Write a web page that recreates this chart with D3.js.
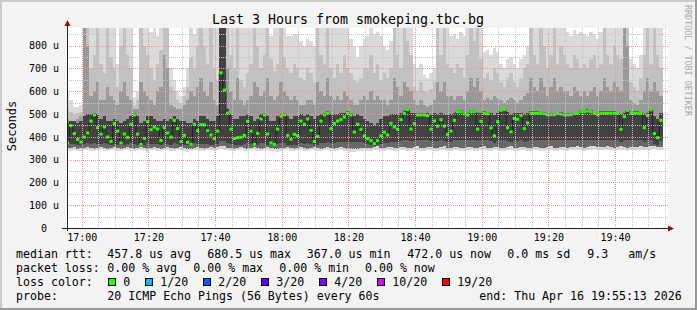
<!DOCTYPE html>
<html>
<head>
<meta charset="utf-8">
<script src="https://cdn.jsdelivr.net/npm/d3@7"></script>
<style>
  html, body { margin: 0; padding: 0; background: #f3f3f3; }
  svg { display: block; }
  text { font-family: "DejaVu Sans Mono", monospace; fill: #000; }
</style>
</head>
<body>
<div id="chart"></div>
<script>
// median rtt per 60s step, microseconds
const medians = [
  374,449,414,389,377,399,417,469,496,440, 412,443,399,380,458,425,373,412,398,455,
  496,412,367,393,466,431,442,434,384,440, 417,399,472,436,379,406,376,367,455,427,
  453,452,427,408,393,
  425,680.5,605,504,434,392,396,398,406,468, 425,367,415,478,496,412,373,367,434,490,
  496,406,390,411,405,469,455,478,428,380, 402,469,496,504,436,459,469,475,487,504,
  496,421,455,433,405,
  392,383,370,383,404,420,408,459,443,433, 475,503,519,434,458,496,496,496,493,434,
  469,447,475,447,411,425,472,510,510,501, 496,510,510,434,468,504,501,439,405,466,
  516,520,440,422,480,
  477,493,436,461,504,504,504,503,501,497, 497,497,503,500,496,496,497,503,503,510,
  510,513,510,503,497,504,504,504,504,504, 503,433,488,516,503,504,504,503,440,493,
  518,414,396,472
]
// smoke: lowest and highest ping of each step (lightest band)
const smokeMin = [
  340,338,342,336,338,340,344,338,336,340, 342,338,336,340,344,338,336,340,342,338,
  336,340,344,338,334,340,342,338,336,340, 344,338,336,340,342,338,334,336,340,342,
  338,336,340,344,338,340,346,344,340,338, 336,340,342,338,336,340,344,338,336,340,
  342,338,336,334,338,340,342,338,336,340, 344,338,336,340,342,338,336,340,342,338,
  336,340,344,338,336,332,334,336,338,340, 338,336,340,344,338,336,340,342,338,336,
  340,342,338,336,340,344,338,336,340,342, 338,336,340,344,338,336,340,342,338,336,
  340,342,338,336,340,344,338,336,340,342, 338,336,340,344,338,336,340,342,338,336,
  340,342,338,336,340,344,338,336,340,342, 338,340,342,344,340,338,342,344,346,342,
  340,342,344,340,338,342,344,340,338,342, 340,342,344,340,342,344,346,342,340
]
const smokeMax = [
  600,560,530,530,540, 880,880, 880,880,880,880,880,880,880,880, 720, 880,880,880,880,
  575,600, 880,880,880, 860,880,840,880, 880,880, 700,650,600,580,620,700, 880,850,880,
  880,880,880,880,880,880, 880,880,880,
  880,880,840,880,880,880,880,860,880,880,880,880,840,880,880,880,880,
  840,840, 850,850, 820,800,830,820,800, 880,880,880,880,880,880,880,880,880,880,
  830,800,750,800,830, 840,880,850,860,840, 800,780,820, 880,880,880,880,880,880,
  720,700,720, 670,660,680,700, 880,880,880,880, 840,850,830,860,840, 880,880,880,880,880,
  770,780,760,790,770, 720,700,740,750,720,700,740,760,800,
  880,880,880,880,880,880,880,880,880,880,880, 860,840,870,850,860, 850,840,860,850,830,860,
  880,880,880,880,880,880, 880,880, 740,720,700,760, 880,880,880,880,880,880
]
// second band top (light grey)
const softHi = [
  520,510,500,505,510, 880,880, 700,760,880,720,680,880,750,700, 620, 800,880,760,700,
  540,560, 880,800,760, 700,650,720,780, 880,880, 620,600,560,550,580,620, 750,700,800,
  880,800,720,880,700,650, 880,880,880,
  760,700,880,650,620,680,720,880,800,700,760,880,740,690,720,880,750,
  700,680, 720,700, 660,650,700,680,640, 880,760,720,880,700,660,720,680,760,700,
  680,650,640,660,700, 700,760,680,720,650, 680,660,700, 880,760,700,880,820,760,
  620,600,640, 600,590,610,640, 880,760,880,720, 700,680,720,700,660, 760,880,820,880,740,
  660,680,650,700,680, 640,620,660,680,640,620,660,700,720,
  880,760,720,880,800,700,760,880,720,800,760, 720,700,760,740,700, 720,700,740,760,700,720,
  880,760,720,800,760,740, 880,880, 640,620,600,660, 760,880,720,880,760,700
]
// mid grey band
const midLo = [
  352,350,354,348,350,352,356,350,348,352, 354,350,348,352,356,350,348,352,354,350,
  348,352,356,350,346,352,354,350,348,352, 356,350,348,352,354,350,346,348,352,354,
  350,348,352,356,350,354,360,358,352,350, 348,352,354,350,348,352,356,350,348,352,
  354,350,348,346,350,352,354,350,348,352, 356,350,348,352,354,350,348,352,354,350,
  348,352,356,350,348,346,346,348,350,352, 352,350,354,358,352,350,354,356,352,350,
  354,356,352,350,354,358,352,350,354,356, 352,350,354,358,352,350,354,356,352,350,
  354,356,352,350,354,358,352,350,354,356, 352,350,354,358,352,350,354,356,352,350,
  354,356,352,350,354,358,352,350,354,356, 352,354,356,358,354,352,356,358,360,356,
  354,356,358,354,352,356,358,354,352,356, 354,356,358,354,356,358,360,356,354
]
const midHi = [
  480,470,470,480,490, 880,800, 580,600,640,560,560,620,580,560, 540,600,640,580,560,
  520,520,640,600,580, 560,540,600,620,760,700, 540,530,520,520,540,560,
  600,580,620,660,600,580,640,560,540, 880,880,700,
  600,560,660,560,540,560,580,640,620,580,600,660,580,560,580,640,600,
  580,560,580,560,540,540,560,560,540, 640,600,580,660,580,560,580,560,600,580,
  560,540,540,560,580, 560,600,560,580,560,560,540,560, 660,620,580,640,620,600,
  560,540,560,540,530,540,560, 640,600,640,580,580,560,580,580,560, 600,660,620,660,600,
  560,570,560,580,570,560,550,560,570,560,550,560,580,590,
  660,620,600,660,620,580,620,660,600,620,600, 600,580,620,600,580,600,580,600,620,580,600,
  660,620,600,640,620,600, 880,800, 560,550,540,560,600,660,600,640,600,580
]
// dark core around the median
const coreLo = [
  368,368,370,366,365,370,372,370,372,370, 368,372,368,362,370,366,362,366,368,372,
  370,366,358,366,372,370,370,368,366,372, 368,366,372,368,366,364,362,358,372,368,
  370,370,368,366,364,
  370,380,380,372,368,366,366,366,368,372, 368,360,366,372,372,366,362,360,368,372,
  372,366,364,366,366,372,370,372,368,364, 366,372,374,376,372,374,376,376,378,378,
  378,376,378,376,374,
  368,364,360,364,368,372,372,378,378,376, 382,384,386,380,380,384,384,384,384,380,
  382,380,384,380,376,378,384,388,388,386, 384,388,388,380,384,386,386,380,374,382,
  388,388,382,378,384,
  382,384,378,380,386,386,386,386,384,384, 384,384,386,384,384,384,384,386,386,388,
  388,388,388,386,384,386,386,386,386,386, 386,376,384,388,386,386,386,386,378,384,
  388,370,366,380
]
const coreHi = [
  460,470,470,460,470,490,500,500,505,500, 480,490,470,470,480,470,460,470,480,490,
  505,490,460,470,490,490,480,470,470,480, 470,480,490,480,470,470,460,460,480,470,
  490,490,480,470,470,
  490,880,880,520,500,480,480,490,490,500, 490,470,480,500,505,490,470,470,490,500,
  505,490,480,490,490,500,490,500,490,480, 490,500,505,512,500,500,500,505,505,512,
  505,490,500,490,480,
  470,460,450,460,480,490,490,500,500,500, 505,512,526,505,505,505,505,505,505,500,
  505,500,505,500,495,500,505,518,518,510, 505,518,518,505,505,512,510,505,495,505,
  524,528,510,500,505,
  505,505,500,505,512,512,512,510,510,505, 505,505,510,508,505,505,505,510,510,516,
  516,520,516,510,505,512,512,512,512,512, 510,500,505,522,510,512,512,510,500,505,
  524,490,480,505
]

const yTicks = [0, 100, 200, 300, 400, 500, 600, 700, 800]
const rttStats = ["457.8 us avg", "680.5 us max", "367.0 us min", "472.0 us now", "0.0 ms sd", "9.3", "am/s"]
const lossStats = ["0.00 % avg", "0.00 % max", "0.00 % min", "0.00 % now"]
const lossLabels = ["0", "1/20", "2/20", "3/20", "4/20", "10/20", "19/20"]
const lossColors = ["#26ff00", "#00b8ff", "#0059ff", "#5e00ff", "#7e00ff", "#dd00ff", "#ff0000"]
const probeText = "20 ICMP Echo Pings (56 Bytes) every 60s"
const endText = "end: Thu Apr 16 19:55:13 2026"

const W = 697, H = 310
const plot = { left: 67, right: 667, top: 28, bottom: 228 }

const tStart = new Date(2026, 3, 16, 16, 55, 35)
const tEnd = new Date(2026, 3, 16, 19, 55, 35)
const t0 = new Date(2026, 3, 16, 16, 55, 17)

const x = d3.scaleTime().domain([tStart, tEnd]).range([plot.left, plot.right])
const y = d3.scaleLinear().domain([0, 877.2]).range([plot.bottom, plot.top])

const cols = medians.map((m, i) => ({ t: d3.timeSecond.offset(t0, i * 60), i }))
const steps = [...cols, { t: d3.timeSecond.offset(t0, medians.length * 60), i: medians.length - 1 }]

const svg = d3.select("#chart").append("svg")
  .attr("width", W)
  .attr("height", H)

/* BACKGROUND + FRAME */
svg.append("rect").attr("width", W).attr("height", H).attr("fill", "#f3f3f3")
svg.append("rect").attr("x", 0).attr("y", 0).attr("width", W).attr("height", 2).attr("fill", "#cbcbcb")
svg.append("rect").attr("x", 0).attr("y", 0).attr("width", 2).attr("height", H).attr("fill", "#cbcbcb")
svg.append("rect").attr("x", 0).attr("y", H - 2).attr("width", W).attr("height", 2).attr("fill", "#999")
svg.append("rect").attr("x", W - 2).attr("y", 0).attr("width", 2).attr("height", H).attr("fill", "#999")

svg.append("rect")
  .attr("x", plot.left).attr("y", plot.top)
  .attr("width", plot.right - plot.left + 1).attr("height", plot.bottom - plot.top)
  .attr("fill", "#fff")

svg.append("clipPath").attr("id", "plotclip")
  .append("rect")
  .attr("x", plot.left).attr("y", plot.top)
  .attr("width", plot.right - plot.left + 1).attr("height", plot.bottom - plot.top)

const g = svg.append("g").attr("clip-path", "url(#plotclip)")

/* SMOKE */
function band(lo, hi, fill) {
  const area = d3.area()
    .curve(d3.curveStepAfter)
    .x(d => x(d.t))
    .y0(d => y(lo[d.i]))
    .y1(d => y(hi[d.i]))
  g.append("path")
    .datum(steps)
    .attr("fill", fill)
    .attr("shape-rendering", "crispEdges")
    .attr("d", area)
}
band(smokeMin, smokeMax, "#dadada")
band(midLo, softHi, "#c1c1c1")
band(midLo, midHi, "#999999")
band(midLo, coreHi, "#686868")
band(coreLo, coreHi, "#424242")

/* GRID */
const grid = svg.append("g").attr("fill", "none").attr("stroke-width", 1).attr("stroke-dasharray", "1,1")
const minorY = d3.range(50, 877, 50).filter(v => v % 100 !== 0)
const majorY = d3.range(100, 877, 100)
const minorX = x.ticks(d3.timeMinute.every(5)).filter(t => t.getMinutes() % 20 !== 0)
const majorX = x.ticks(d3.timeMinute.every(20))
const gy = v => Math.round(y(v)) + 0.5
const gx = t => Math.round(x(t)) + 0.5

grid.selectAll(".minor-y").data(minorY).join("line")
  .attr("stroke", "#c4c4c4")
  .attr("x1", plot.left).attr("x2", plot.right + 1)
  .attr("y1", gy).attr("y2", gy)
grid.selectAll(".minor-x").data(minorX).join("line")
  .attr("stroke", "#c4c4c4")
  .attr("x1", gx).attr("x2", gx)
  .attr("y1", plot.top).attr("y2", plot.bottom)
grid.selectAll(".major-y").data(majorY).join("line")
  .attr("stroke", "#e39a9a")
  .attr("x1", plot.left).attr("x2", plot.right + 1)
  .attr("y1", gy).attr("y2", gy)
grid.selectAll(".major-x").data(majorX).join("line")
  .attr("stroke", "#e39a9a")
  .attr("x1", gx).attr("x2", gx)
  .attr("y1", plot.top).attr("y2", plot.bottom)

/* MEDIAN */
g.append("path")
  .datum(steps)
  .attr("fill", "none")
  .attr("stroke", "#202020")
  .attr("stroke-width", 1)
  .attr("d", d3.line().curve(d3.curveStepAfter).x(d => x(d.t)).y(d => y(medians[d.i])))

g.append("g")
  .selectAll("rect")
  .data(cols)
  .join("rect")
  .attr("x", d => x(d.t))
  .attr("width", d => x(d3.timeSecond.offset(d.t, 60)) - x(d.t))
  .attr("y", d => y(medians[d.i]) - 1.5)
  .attr("height", 3)
  .attr("fill", lossColors[0])

/* AXES */
const yAxis = svg.append("g")
  .attr("transform", `translate(${plot.left}, 0)`)
  .call(d3.axisLeft(y).tickValues(yTicks).tickSize(0).tickPadding(8)
    .tickFormat(d => d === 0 ? "0" : d + " u"))
yAxis.attr("font-family", null).attr("font-size", 10)
yAxis.select(".domain").remove()
yAxis.selectAll(".tick text").attr("x", d => d === 0 ? -20 : -8)

const xAxis = svg.append("g")
  .attr("transform", `translate(0, ${plot.bottom})`)
  .call(d3.axisBottom(x).tickValues(majorX).tickSize(0).tickPadding(6)
    .tickFormat(d3.timeFormat("%H:%M")))
xAxis.attr("font-family", null).attr("font-size", 10)
xAxis.select(".domain").remove()

svg.append("line")
  .attr("x1", plot.left - 5).attr("x2", plot.right + 2)
  .attr("y1", plot.bottom + 0.5).attr("y2", plot.bottom + 0.5)
  .attr("stroke", "#222")
svg.append("line")
  .attr("x1", plot.left + 0.5).attr("x2", plot.left + 0.5)
  .attr("y1", plot.bottom + 3).attr("y2", plot.top - 3)
  .attr("stroke", "#222")
svg.append("path")
  .attr("d", `M${plot.right + 1},${plot.bottom - 2.5}L${plot.right + 7},${plot.bottom + 0.5}L${plot.right + 1},${plot.bottom + 3.5}Z`)
  .attr("fill", "#8b1010")
svg.append("path")
  .attr("d", `M${plot.left - 2.5},${plot.top - 2}L${plot.left + 0.5},${plot.top - 8}L${plot.left + 3.5},${plot.top - 2}Z`)
  .attr("fill", "#8b1010")

/* TITLES */
svg.append("text")
  .attr("x", 348).attr("y", 24)
  .attr("text-anchor", "middle")
  .attr("font-size", 13.3)
  .text("Last 3 Hours from smokeping.tbc.bg")

svg.append("text")
  .attr("transform", "translate(15.5, 126) rotate(-90)")
  .attr("text-anchor", "middle")
  .attr("font-size", 12)
  .text("Seconds")

svg.append("text")
  .attr("transform", "translate(685, 5) rotate(90)")
  .attr("font-size", 8.4)
  .style("fill", "#a8a8a8")
  .text("RRDTOOL / TOBI OETIKER")

/* LEGEND */
const legend = svg.append("g").attr("font-size", 11.6)
const rttX = [107.3, 207.3, 306.7, 407.3, 507.3, 587.3, 628.3]
const lossX = [107.3, 193.3, 279.3, 365]

legend.append("text").attr("x", 16).attr("y", 258).text("median rtt:")
legend.selectAll(".rtt").data(rttStats).join("text")
  .attr("x", (d, i) => rttX[i]).attr("y", 258).text(d => d)

legend.append("text").attr("x", 16).attr("y", 272).text("packet loss:")
legend.selectAll(".loss").data(lossStats).join("text")
  .attr("x", (d, i) => lossX[i]).attr("y", 272).text(d => d)

legend.append("text").attr("x", 16).attr("y", 286).text("loss color:")
let cursor = 108.3
lossLabels.forEach((label, i) => {
  legend.append("rect")
    .attr("x", Math.round(cursor) + 0.5).attr("y", 278.5)
    .attr("width", 7).attr("height", 7)
    .attr("fill", lossColors[i]).attr("stroke", "#000")
  legend.append("text").attr("x", cursor + 15).attr("y", 286).text(label)
  cursor += 15 + label.length * 7 + 15
})

legend.append("text").attr("x", 16).attr("y", 300).text("probe:")
legend.append("text").attr("x", 107.3).attr("y", 300).text(probeText)
legend.append("text").attr("x", 479.3).attr("y", 300).text(endText)
</script>
</body>
</html>
